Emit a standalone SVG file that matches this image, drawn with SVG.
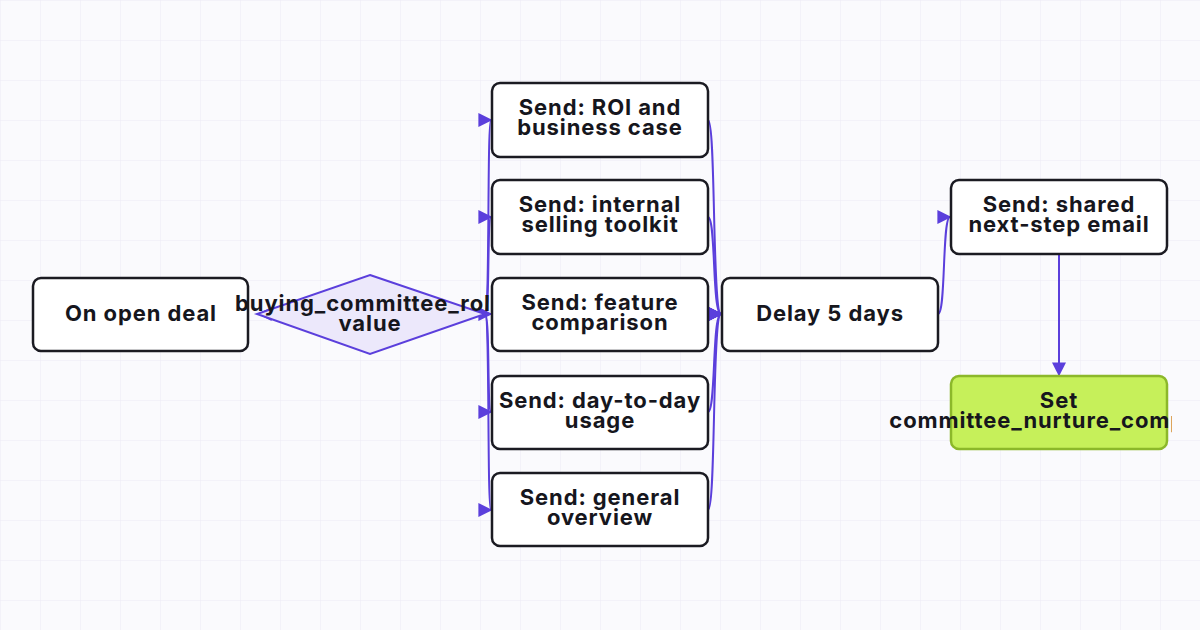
<svg xmlns="http://www.w3.org/2000/svg" width="1200" height="630" viewBox="0 0 1200 630">
<defs>
<pattern id="grid" width="40" height="40" patternUnits="userSpaceOnUse"><path d="M40 0H0V40" fill="none" stroke="#ebe9f5" stroke-width="1"/></pattern>
<marker id="ah" viewBox="0 0 10 10" refX="9" refY="5" markerWidth="14" markerHeight="14" markerUnits="userSpaceOnUse" orient="auto"><path d="M0 0L10 5L0 10z" fill="#5b3fdc"/></marker>
<clipPath id="cd"><rect x="220" y="280" width="270" height="70"/></clipPath>
<clipPath id="cs"><rect x="860" y="376" width="312" height="80"/></clipPath>
</defs>
<style>
.n{fill:#fff;stroke:#1b1b22;stroke-width:2.5}
.t{font-family:Inter,"Noto Sans",sans-serif;font-weight:700;font-size:22px;fill:#16161d;text-anchor:middle;letter-spacing:0.9px}
.e{fill:none;stroke:#5b3fdc;stroke-width:2;marker-end:url(#ah)}
</style>
<rect width="1200" height="630" fill="#fafafd"/>
<rect width="1200" height="630" fill="url(#grid)"/>
<g id="connectors">
<path class="e" d="M485 314L259 314"/>
<path class="e" d="M485 314C490 314 487 120 491 120"/>
<path class="e" d="M485 314C490 314 487 217 491 217"/>
<path class="e" d="M485 314L491 314"/>
<path class="e" d="M485 314C490 314 487 412 491 412"/>
<path class="e" d="M485 314C490 314 487 510 491 510"/>
<path class="e" d="M708 120C716 120 712 314 721 314"/>
<path class="e" d="M708 217C716 217 712 314 721 314"/>
<path class="e" d="M708 314L721 314"/>
<path class="e" d="M708 412C716 412 712 314 721 314"/>
<path class="e" d="M708 510C716 510 712 314 721 314"/>
<path class="e" d="M938 314C946 314 942 217 950 217"/>
<path class="e" d="M1059 254L1059 375"/>
</g>
<g id="start"><rect class="n" x="33" y="278" width="215" height="73" rx="8"/><text class="t" x="141" y="321">On open deal</text></g>
<g id="decision"><path d="M370 275L485 314L370 354L257 314Z" fill="#ece8fb" stroke="#5b3fdc" stroke-width="2"/><g clip-path="url(#cd)"><text class="t" x="370" y="311">buying_committee_role</text><text class="t" x="370" y="331">value</text></g></g>
<g id="s1"><rect class="n" x="492" y="83" width="216" height="74" rx="8"/><text class="t" x="600" y="115">Send: ROI and</text><text class="t" x="600" y="135">business case</text></g>
<g id="s2"><rect class="n" x="492" y="180" width="216" height="74" rx="8"/><text class="t" x="600" y="212">Send: internal</text><text class="t" x="600" y="232">selling toolkit</text></g>
<g id="s3"><rect class="n" x="492" y="278" width="216" height="73" rx="8"/><text class="t" x="600" y="310">Send: feature</text><text class="t" x="600" y="330">comparison</text></g>
<g id="s4"><rect class="n" x="492" y="376" width="216" height="73" rx="8"/><text class="t" x="600" y="408">Send: day-to-day</text><text class="t" x="600" y="428">usage</text></g>
<g id="s5"><rect class="n" x="492" y="473" width="216" height="73" rx="8"/><text class="t" x="600" y="505">Send: general</text><text class="t" x="600" y="525">overview</text></g>
<g id="delay"><rect class="n" x="722" y="278" width="216" height="73" rx="8"/><text class="t" x="830" y="321">Delay 5 days</text></g>
<g id="shared"><rect class="n" x="951" y="180" width="216" height="74" rx="8"/><text class="t" x="1059" y="212">Send: shared</text><text class="t" x="1059" y="232">next-step email</text></g>
<g id="set"><rect x="951" y="376" width="216" height="73" rx="8" fill="#c6f05a" stroke="#8cb82a" stroke-width="2.5"/><g clip-path="url(#cs)"><text class="t" x="1059" y="408">Set</text><text class="t" x="1059" y="428">committee_nurture_complete</text></g></g>
</svg>
